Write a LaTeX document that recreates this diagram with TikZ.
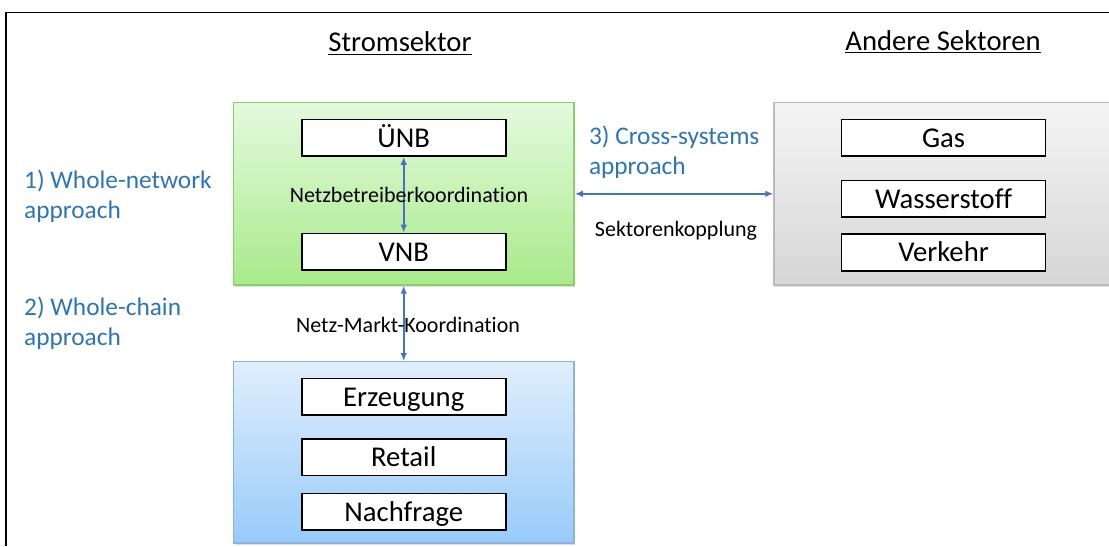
\documentclass[tikz,border=0pt]{standalone}
\usepackage{fontspec}
\setmainfont{Carlito}[Ligatures=NoCommon]
\usetikzlibrary{arrows.meta,shadows}

\definecolor{approachblue}{RGB}{46,117,182}
\definecolor{arrowblue}{RGB}{68,114,196}
\definecolor{greentop}{RGB}{228,250,222}
\definecolor{greenbot}{RGB}{168,234,138}
\definecolor{greenline}{RGB}{140,206,108}
\definecolor{graytop}{RGB}{244,244,244}
\definecolor{graybot}{RGB}{214,214,214}
\definecolor{grayline}{RGB}{186,186,186}
\definecolor{bluetop}{RGB}{224,238,252}
\definecolor{bluebot}{RGB}{152,203,250}
\definecolor{blueline}{RGB}{140,178,222}

\tikzset{every picture/.style={line width=0.75pt}}
\tikzset{
  sectorbox/.style={draw, line width=1.1pt, minimum width=255.5pt, inner sep=0pt,
    drop shadow={shadow xshift=1pt, shadow yshift=-1.5pt, opacity=0.25}},
  innerbox/.style={draw=black, fill=white, line width=1.2pt, minimum width=153pt,
    minimum height=27.5pt, inner sep=0pt, text height=14pt, text depth=0pt,
    font=\fontsize{21.5pt}{25pt}\selectfont},
  approachlbl/.style={text=approachblue, align=left, anchor=west, inner sep=0pt,
    font=\fontsize{19pt}{22.8pt}\selectfont},
  coordlbl/.style={inner sep=0pt, font=\fontsize{16.5pt}{19.8pt}\selectfont},
  headlbl/.style={inner sep=0pt, font=\fontsize{21.5pt}{25pt}\selectfont},
  link/.style={draw=arrowblue, line width=1.2pt,
    {Latex[length=6pt,width=5pt]}-{Latex[length=6pt,width=5pt]}}
}

\begin{document}
\begin{tikzpicture}[x=0.75pt,y=0.75pt,yscale=-1,xscale=1]
\useasboundingbox (0,0) rectangle (1109,546);

%Frame
\draw [line width=0.9pt] (6,546) -- (6,12.3) -- (1109,12.3) ;

%Shape: Rectangle (Stromsektor)
\draw (403.7,193.8) node [sectorbox, draw=greenline, top color=greentop, bottom color=greenbot, minimum height=136.7pt] (netz) {};
%Shape: Rectangle (Markt)
\draw (403.7,452.4) node [sectorbox, draw=blueline, top color=bluetop, bottom color=bluebot, minimum height=136pt] (markt) {};
%Shape: Rectangle (Andere Sektoren)
\draw (948,193.8) node [sectorbox, draw=grayline, top color=graytop, bottom color=graybot, minimum width=261pt, minimum height=136.7pt] (andere) {};

%Shape: Rectangle
\draw (403.7,137.7) node [innerbox] (unb) {ÜNB};
\draw (403.7,251.7) node [innerbox] (vnb) {VNB};
\draw (403.7,396.7) node [innerbox] (erz) {Erzeugung};
\draw (403.7,457.3) node [innerbox] (retail) {Retail};
\draw (403.7,511.7) node [innerbox] (nachfrage) {Nachfrage};
\draw (943.5,137.7) node [innerbox] (gas) {Gas};
\draw (943.5,198.7) node [innerbox] (h2) {Wasserstoff};
\draw (943.5,252.5) node [innerbox] (verkehr) {Verkehr};

%Straight Lines [both arrows]
\draw [link] (unb.south) -- (vnb.north) ;
\draw [link] (netz.south) -- (markt.north) ;
\draw [link] (netz.east) -- (andere.west) ;

% Text Node
\draw (400,43.3) node [headlbl] (strom) {\underline{Stromsektor}};
% Text Node
\draw (943,41.7) node [headlbl] (andlbl) {\underline{Andere Sektoren}};
% Text Node
\draw (409,195) node [coordlbl] (nbk) {Netzbetreiberkoordination};
% Text Node
\draw (408,325) node [coordlbl] (nmk) {Netz-Markt-Koordination};
% Text Node
\draw (676,231) node [coordlbl] (sk) {Sektorenkopplung};
% Text Node
\draw (23.7,196) node [approachlbl] (wn) {1) Whole-network\\approach};
% Text Node
\draw (23.7,323) node [approachlbl] (wc) {2) Whole-chain\\approach};
% Text Node
\draw (588.5,152) node [approachlbl] (cs) {3) Cross-systems\\approach};

\end{tikzpicture}
\end{document}
